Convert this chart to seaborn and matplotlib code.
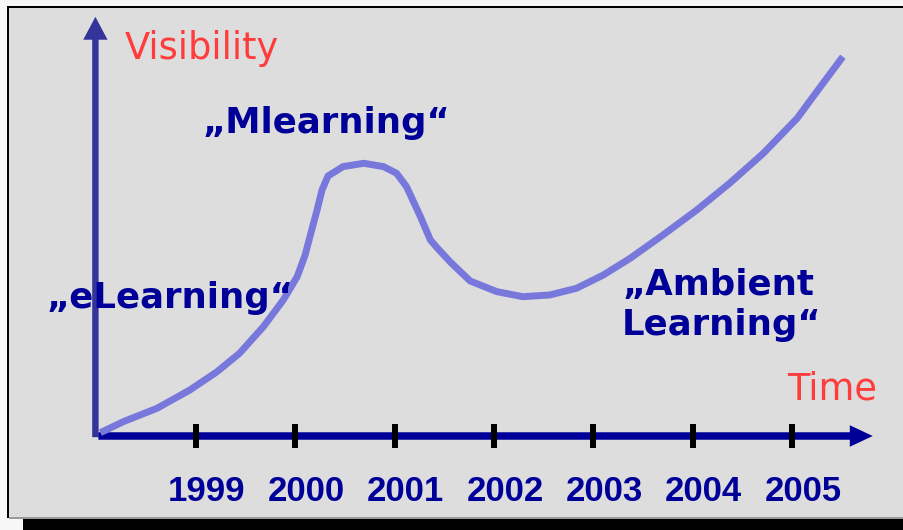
import matplotlib
matplotlib.use("Agg")
import matplotlib.pyplot as plt
from matplotlib.patches import Rectangle, FancyArrowPatch
from matplotlib import font_manager
import seaborn as sns
import pandas as pd

# ---------------- data ----------------
curve_year = [1998.04, 1998.27, 1998.61, 1998.94, 1999.21, 1999.44, 1999.68, 1999.88,
              2000.02, 2000.10, 2000.15, 2000.22, 2000.27, 2000.33, 2000.48, 2000.69,
              2000.89, 2001.02, 2001.12, 2001.26, 2001.36, 2001.43, 2001.56, 2001.76,
              2002.03, 2002.29, 2002.56, 2002.83, 2003.10, 2003.37, 2003.70, 2004.04,
              2004.37, 2004.71, 2005.05, 2005.31, 2005.51]
curve_visibility = [0.83, 3.58, 6.93, 11.5, 16.0, 20.68, 27.33, 34.0,
                    39.83, 45.25, 50.0, 56.5, 61.5, 65.0, 67.33, 68.18,
                    67.33, 65.68, 62.33, 54.83, 49.0, 47.0, 43.5, 38.75,
                    36.08, 34.83, 35.25, 36.93, 40.25, 44.43, 50.25, 56.5,
                    63.18, 70.68, 79.43, 88.18, 94.83]
tick_years = [1999, 2000, 2001, 2002, 2003, 2004, 2005]
tick_labels = ["1999", "2000", "2001", "2002", "2003", "2004", "2005"]
phase_labels = ["\u201eeLearning\u201c", "\u201eMlearning\u201c", "\u201eAmbient", "Learning\u201c"]
axis_labels = ["Visibility", "Time"]

df = pd.DataFrame({"year": curve_year, "visibility": curve_visibility})

# ---------------- style ----------------
sns.set_theme(style="white")
plt.rcParams["font.family"] = ["DejaVu Sans"]

def has_font(name):
    try:
        font_manager.findfont(font_manager.FontProperties(family=name, weight="bold"),
                              fallback_to_default=False)
        return True
    except Exception:
        return False

year_font = "Liberation Sans Narrow" if has_font("Liberation Sans Narrow") else "Liberation Sans"
year_size = 30 if year_font == "Liberation Sans Narrow" else 25

W, H = 904, 530
fig = plt.figure(figsize=(W / 100, H / 100), dpi=100, facecolor="#f7f7f7")
ax = fig.add_axes([0, 0, 1, 1])
ax.set_facecolor("none")

# map figure pixels <-> data: x = 2002 + (px-494)/99.4, v = (436-py)/4
ax.set_xlim(2002 - 494 / 99.4, 2002 + (W - 494) / 99.4)
ax.set_ylim((436 - H) / 4, 436 / 4)
ax.axis("off")

def frect(x0, y0, x1, y1, color, z=-5):
    fig.add_artist(Rectangle((x0 / W, 1 - y1 / H), (x1 - x0) / W, (y1 - y0) / H,
                             transform=fig.transFigure, facecolor=color,
                             edgecolor="none", zorder=z))

# panel and frame
frect(8, 8, W, 517, "#dddddd")
frect(7, 6, W, 8, "#000000")
frect(7, 6, 9, 518, "#000000")
frect(9, 517, W, 518.5, "#9a9a9a")
frect(23, 519, W, H, "#000000")

# axes arrows
yarrow = FancyArrowPatch((1997.99, -0.3), (1997.99, 104.8),
                         arrowstyle="simple,head_length=16.5,head_width=17.5,tail_width=4.6",
                         mutation_scale=1, color="#333399", lw=0,
                         shrinkA=0, shrinkB=0, zorder=2)
ax.add_patch(yarrow)
xarrow = FancyArrowPatch((1998.02, 0), (2005.81, 0),
                         arrowstyle="simple,head_length=16.5,head_width=15.5,tail_width=5.4",
                         mutation_scale=1, color="#000099", lw=0,
                         shrinkA=0, shrinkB=0, zorder=2)
ax.add_patch(xarrow)

# ticks
ax.vlines(tick_years, -3, 3, colors="#000000", linewidth=4.3, zorder=3)

# curve
sns.lineplot(data=df, x="year", y="visibility", ax=ax, color="#7878dc",
             linewidth=5, zorder=4, legend=False)
for ln in ax.get_lines():
    ln.set_solid_capstyle("butt")
    ln.set_solid_joinstyle("round")

# year labels (set slightly right of their ticks, as in the original)
for yr, lab in zip(tick_years, tick_labels):
    ax.text(yr + 0.11, -16.25, lab, ha="center", va="baseline", color="#000099",
            fontsize=year_size, fontweight="bold", family=[year_font, "DejaVu Sans"],
            zorder=5)

# axis titles
ax.text(1998.28, 94.25, axis_labels[0], ha="left", va="baseline",
        color="#ff3b3b", fontsize=26.5, zorder=5)
ax.text(2004.95, 9.0, axis_labels[1], ha="left", va="baseline",
        color="#ff3b3b", fontsize=26.5, zorder=5)

# phase labels
blue = "#000099"
fs = 25.6
ax.text(1997.50, 32.0, phase_labels[0], ha="left", va="baseline", color=blue,
        fontsize=fs, fontweight="bold", zorder=5)
ax.text(1999.07, 75.75, phase_labels[1], ha="left", va="baseline", color=blue,
        fontsize=fs, fontweight="bold", zorder=5)
ax.text(2003.29, 35.25, phase_labels[2], ha="left", va="baseline", color=blue,
        fontsize=fs, fontweight="bold", zorder=5)
ax.text(2003.29, 25.25, phase_labels[3], ha="left", va="baseline", color=blue,
        fontsize=fs, fontweight="bold", zorder=5)

fig.savefig("out.png", dpi=100, facecolor=fig.get_facecolor())
